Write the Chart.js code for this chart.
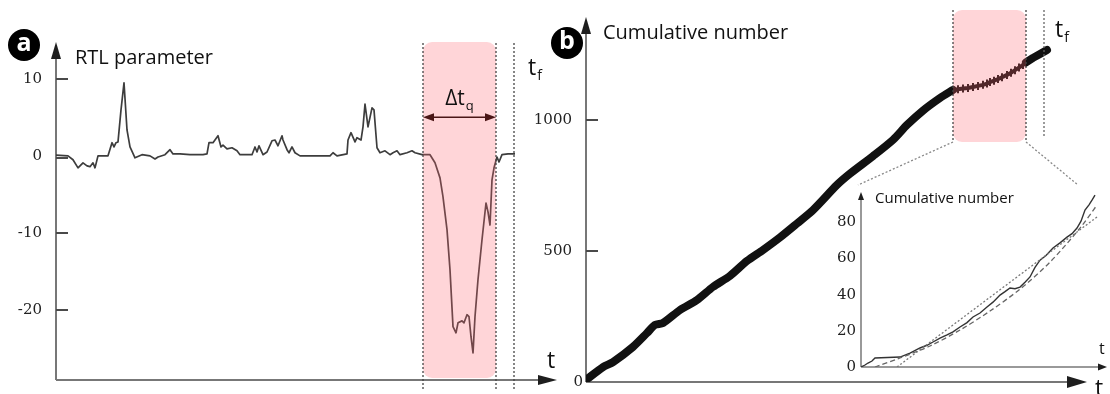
<!DOCTYPE html>
<html>
<head>
<meta charset="utf-8">
<script src="https://cdn.jsdelivr.net/npm/chart.js@4.4.0/dist/chart.umd.min.js"></script>
<style>
  body { margin: 0; background: #fff; }
  #wrap { position: relative; width: 1110px; height: 394px; }
  #wrap canvas { position: absolute; left: 0; top: 0; }
</style>
</head>
<body>
<div id="wrap">
  <canvas id="chartA" width="1110" height="394"></canvas>
  <canvas id="chartB" width="1110" height="394"></canvas>
  <canvas id="chartC" width="1110" height="394"></canvas>
</div>
<script>
// A - RTL parameter
const rtlTime = [
    0, 12, 17, 22, 27, 31, 34, 37, 39, 42,
    52, 56, 58, 60, 62, 65, 68, 71, 74, 79,
    86, 94, 99, 102, 109, 114, 117, 124, 134, 147,
    151, 153, 157, 162, 165, 167, 171, 176, 181, 184,
    196, 199, 201, 203, 207, 211, 216, 219, 222, 226,
    227, 231, 233, 236, 239, 244, 274, 277, 281, 291,
    292, 295, 299, 301, 305, 307, 309, 312, 316, 318,
    321, 324, 329, 334, 337, 341, 344, 351, 356, 359,
    366, 374, 379, 384, 387, 391, 394, 397, 400, 402,
    406, 408, 411, 413, 415, 417, 419, 422, 426, 430,
    432, 434, 436, 438, 441, 443, 446, 452, 456, 459,
];
const rtlValue = [
    0.1, 0, -0.5, -1.55, -0.9, -1.3, -1.4, -0.9, -1.55, 0,
    0, 1.7, 1.15, 1.7, 1.8, 5.95, 9.45, 3.35, 1.15, -0.25,
    0.15, 0, -0.4, -0.15, 0.15, 0.8, 0.25, 0.25, 0.15, 0.15,
    0.25, 1.7, 1.7, 2.6, 1.15, 1.4, 0.9, 1.05, 0.65, 0.15,
    0.15, 1.15, 0.5, 1.3, 0.15, 0.5, 1.95, 2.05, 1.3, 2.6,
    2.05, 0.8, 0.4, 1.15, 0.4, 0, 0, 0.4, 0, 0.25,
    2.05, 3.0, 1.8, 2.35, 2.05, 3.75, 6.7, 3.75, 6.2, 5.95,
    1.05, 0.4, 0.65, 0.15, 0.4, 0.65, 0.15, 0.4, 0.65, 0.4,
    0.15, 0.15, -0.9, -2.85, -5.3, -9.55, -14.75, -22.1, -22.9, -21.6,
    -21.35, -21.6, -20.55, -20.8, -23.4, -25.5, -20.8, -16.0, -10.85, -6.1,
    -7.25, -8.95, -3.1, -1.55, -0.15, -0.8, 0.15, 0.25, 0.25, 0.25,
];
const rtlTicks = [10, 0, -10, -20];

// B - cumulative number
const cumTime = [0, 17, 27, 47, 61, 69, 77, 94, 111, 127, 144, 161, 177, 194, 211, 227, 251, 264, 287, 307, 321, 337, 354, 367];
const cumValue = [8, 57, 76, 134, 187, 218, 225, 275, 313, 363, 405, 462, 504, 552, 605, 656, 752, 795, 862, 924, 981, 1036, 1084, 1115];
const cumZoomTime = [367, 372, 377, 382, 387, 392, 397, 401, 404, 408, 412, 416, 421, 425, 429, 433, 437, 440];
const cumZoomValue = [1115, 1117, 1120, 1122, 1126, 1130, 1134, 1139, 1145, 1150, 1156, 1163, 1172, 1180, 1190, 1200, 1210, 1220];
const cumTailTime = [440, 447, 454, 461];
const cumTailValue = [1220, 1237, 1252, 1267];
const cumTicks = [0, 500, 1000];

// inset - last events before t_f
const insetTime = [0, 4, 7, 11, 14, 39, 49, 59, 66, 72, 79, 86, 92, 99, 106, 112, 119, 126, 132, 139, 144, 149, 154, 159, 164, 169, 174, 179, 185, 192, 199, 206, 211, 216, 220, 224, 228, 231, 234];
const insetValue = [0, 1.1, 2.2, 3.3, 5.0, 5.5, 7.7, 10.5, 12.0, 13.8, 15.9, 17.7, 19.4, 22.1, 24.5, 27.6, 29.8, 33.1, 35.8, 39.7, 41.6, 43.6, 43.2, 44.1, 46.8, 49.7, 55.0, 59.0, 61.5, 65.7, 68.5, 71.7, 73.6, 76.7, 80.5, 86.6, 89.5, 92.1, 94.9];
const fitLinTime = [36, 236];
const fitLinValue = [0, 82.8];
const fitPowTime = [14, 39, 69, 99, 129, 159, 189, 219, 236];
const fitPowValue = [0, 5, 11.6, 20.4, 30.9, 43, 57.9, 76.7, 89.4];
const insetTicks = [0, 20, 40, 60, 80];

// quiescence window and failure time (same t units in a and b)
const quietStart = 367;
const quietEnd = 440;
const failTime = 458;

const SANS = '"Open Sans", sans-serif';
const SERIF = '"DejaVu Serif", serif';
const PINK = "rgba(255, 100, 110, 0.27)";

function pts(xs, ys) {
    return xs.map((t, i) => ({ x: t, y: ys[i] }));
}

function axisArrow(ctx, x0, y0, x1, y1, len, half, lw) {
    const a = Math.atan2(y1 - y0, x1 - x0);
    ctx.save();
    ctx.strokeStyle = "#777";
    ctx.lineWidth = lw;
    ctx.beginPath();
    ctx.moveTo(x0, y0);
    ctx.lineTo(x1 - len * 0.6 * Math.cos(a), y1 - len * 0.6 * Math.sin(a));
    ctx.stroke();
    ctx.fillStyle = "#1e1e1e";
    ctx.beginPath();
    ctx.moveTo(x1, y1);
    ctx.lineTo(x1 - len * Math.cos(a) + half * Math.sin(a), y1 - len * Math.sin(a) - half * Math.cos(a));
    ctx.lineTo(x1 - len * Math.cos(a) - half * Math.sin(a), y1 - len * Math.sin(a) + half * Math.cos(a));
    ctx.closePath();
    ctx.fill();
    ctx.restore();
}

function dotted(ctx, x0, y0, x1, y1, color) {
    ctx.save();
    ctx.strokeStyle = color || "#444";
    ctx.lineWidth = 1.3;
    ctx.setLineDash([2, 2]);
    ctx.beginPath();
    ctx.moveTo(x0, y0);
    ctx.lineTo(x1, y1);
    ctx.stroke();
    ctx.restore();
}

function subText(ctx, main, sub, x, y, size) {
    ctx.textAlign = "left";
    ctx.textBaseline = "alphabetic";
    ctx.font = size + "px " + SANS;
    ctx.fillText(main, x, y);
    const w = ctx.measureText(main).width;
    ctx.font = Math.round(size * 0.62) + "px " + SANS;
    ctx.fillText(sub, x + w + 1, y + size * 0.22);
}

function subWidth(ctx, main, sub, size) {
    ctx.font = size + "px " + SANS;
    const w = ctx.measureText(main).width;
    ctx.font = Math.round(size * 0.62) + "px " + SANS;
    return w + 1 + ctx.measureText(sub).width;
}

function badge(ctx, letter, cx, cy) {
    ctx.save();
    ctx.fillStyle = "#000";
    ctx.beginPath();
    ctx.arc(cx, cy, 16, 0, Math.PI * 2);
    ctx.fill();
    ctx.fillStyle = "#fff";
    ctx.font = "bold 25px " + SANS;
    ctx.textAlign = "center";
    ctx.textBaseline = "middle";
    ctx.fillText(letter, cx, cy - 1);
    ctx.restore();
}

function yLabels(ctx, scale, ticks, x, off) {
    ctx.save();
    ctx.font = "15px " + SERIF;
    ctx.fillStyle = "#222";
    ctx.textAlign = "right";
    ctx.textBaseline = "middle";
    ticks.forEach((v) => {
        ctx.fillText(String(v), x - off(v), Math.round(scale.getPixelForValue(v)));
    });
    ctx.restore();
}

// short inward tick marks, drawn as small bars after the axis line
function yMarks(ctx, scale, ticks, x, dy) {
    ctx.save();
    ctx.fillStyle = "#4a4a4a";
    ticks.forEach((v) => {
        const py = Math.round(scale.getPixelForValue(v)) + (v === 0 ? dy : 0);
        ctx.fillRect(x, py - 1, 12, 2);
    });
    ctx.restore();
}

// panel a decorations
const panelA = {
    id: "panelA",
    beforeDatasetsDraw(chart) {
        const { ctx, chartArea: ca, scales } = chart;
        yLabels(ctx, scales.y, rtlTicks, ca.left, () => 14);
        axisArrow(ctx, ca.left, ca.bottom, ca.left, ca.top, 17, 5, 2);
        axisArrow(ctx, ca.left, ca.bottom, ca.right, ca.bottom, 19, 5, 2);
    },
    afterDatasetsDraw(chart) {
        const { ctx, chartArea: ca, scales } = chart;
        yMarks(ctx, scales.y, rtlTicks, ca.left, 2);
        const x1 = scales.x.getPixelForValue(quietStart);
        const x2 = scales.x.getPixelForValue(quietEnd);
        const xf = scales.x.getPixelForValue(failTime);
        ctx.save();
        ctx.fillStyle = PINK;
        ctx.beginPath();
        ctx.roundRect(x1, ca.top, x2 - x1, ca.bottom - 2 - ca.top, 9);
        ctx.fill();
        ctx.restore();
        [x1, x2, xf].forEach((px) => dotted(ctx, px, ca.top + 1, px, ca.bottom + 11));

        // delta t_q double arrow
        const ya = scales.y.getPixelForValue(5);
        ctx.save();
        ctx.strokeStyle = "#4a1616";
        ctx.fillStyle = "#4a1616";
        ctx.lineWidth = 1.5;
        ctx.beginPath();
        ctx.moveTo(x1 + 6, ya);
        ctx.lineTo(x2 - 6, ya);
        ctx.stroke();
        [[x1, 1], [x2, -1]].forEach(([px, d]) => {
            ctx.beginPath();
            ctx.moveTo(px, ya);
            ctx.lineTo(px + d * 11, ya - 4);
            ctx.lineTo(px + d * 11, ya + 4);
            ctx.closePath();
            ctx.fill();
        });
        ctx.fillStyle = "#111";
        const w = subWidth(ctx, "\u0394t", "q", 21);
        subText(ctx, "\u0394t", "q", (x1 + x2) / 2 - w / 2, ya - 12, 21);
        subText(ctx, "t", "f", xf + 14, 75, 23);
        ctx.font = "23px " + SANS;
        ctx.fillText("t", ca.right - 10, ca.bottom - 12);
        ctx.font = "20px " + SANS;
        ctx.fillText("RTL parameter", ca.left + 19, 64);
        ctx.restore();
        badge(ctx, "a", 24, 45);
    },
};

// panel b decorations
const panelB = {
    id: "panelB",
    beforeDatasetsDraw(chart) {
        const { ctx, chartArea: ca, scales } = chart;
        yLabels(ctx, scales.y, cumTicks, ca.left, (v) => (v === 0 ? 3 : 14));
        axisArrow(ctx, ca.left, ca.bottom, ca.left, ca.top, 17, 5, 2);
        axisArrow(ctx, ca.left, ca.bottom, ca.right, ca.bottom, 20, 6, 2);
    },
    afterDatasetsDraw(chart) {
        const { ctx, chartArea: ca, scales } = chart;
        yMarks(ctx, scales.y, cumTicks.filter((v) => v !== 0), ca.left, 0);
        const x1 = scales.x.getPixelForValue(quietStart);
        const x2 = scales.x.getPixelForValue(quietEnd);
        const xf = scales.x.getPixelForValue(failTime);
        const top = ca.top - 7;
        const bot = scales.y.getPixelForValue(916);
        ctx.save();
        ctx.fillStyle = PINK;
        ctx.beginPath();
        ctx.roundRect(x1, top, x2 - x1, bot - top, 9);
        ctx.fill();
        ctx.restore();
        dotted(ctx, x1, top, x1, bot);
        dotted(ctx, x2, top, x2, bot);
        dotted(ctx, xf, top, xf, bot - 6, "#666");
        ctx.save();
        ctx.fillStyle = "#111";
        subText(ctx, "t", "f", xf + 11, 37, 23);
        ctx.font = "23px " + SANS;
        ctx.fillText("t", ca.right + 8, ca.bottom + 14);
        ctx.font = "20px " + SANS;
        ctx.fillText("Cumulative number", ca.left + 17, 39);
        ctx.restore();
        badge(ctx, "b", 567, 43);
    },
};

// inset decorations
const panelC = {
    id: "panelC",
    beforeDatasetsDraw(chart) {
        const { ctx, chartArea: ca, scales } = chart;
        yLabels(ctx, scales.y, insetTicks, ca.left, () => 5);
        axisArrow(ctx, ca.left, ca.bottom, ca.left, ca.top, 8, 3, 1.5);
        axisArrow(ctx, ca.left, ca.bottom, ca.right, ca.bottom, 9, 3.5, 1.5);

        // connectors from the pink window of panel b
        const b = Chart.getChart("chartB");
        if (b) {
            const bx = b.scales.x;
            const bot = b.scales.y.getPixelForValue(916);
            dotted(ctx, bx.getPixelForValue(quietStart), bot, ca.left - 3, ca.top - 7, "#888");
            dotted(ctx, bx.getPixelForValue(quietEnd), bot, scales.x.getPixelForValue(217), ca.top - 7, "#888");
        }
        ctx.save();
        ctx.fillStyle = "#111";
        ctx.font = "15px " + SANS;
        ctx.fillText("Cumulative number", ca.left + 14, ca.top + 11);
        ctx.font = "16px " + SANS;
        ctx.fillText("t", ca.right - 8, ca.bottom - 13);
        ctx.restore();
    },
};

const baseOptions = (pad, xMax, yMin, yMax) => ({
    responsive: false,
    animation: false,
    layout: { padding: pad },
    plugins: { legend: { display: false }, tooltip: { enabled: false } },
    elements: { point: { radius: 0 }, line: { tension: 0 } },
    scales: {
        x: { type: "linear", min: 0, max: xMax, display: false },
        y: { type: "linear", min: yMin, max: yMax, display: false },
    },
});

new Chart(document.getElementById("chartA"), {
    type: "line",
    data: {
        datasets: [
            {
                data: pts(rtlTime, rtlValue),
                borderColor: "#3d3d3d",
                borderWidth: 1.7,
                borderJoinStyle: "round",
            },
        ],
    },
    options: baseOptions({ left: 56, right: 553, top: 42, bottom: 14 }, 501, -29, 14.73),
    plugins: [panelA],
});

new Chart(document.getElementById("chartB"), {
    type: "line",
    data: {
        datasets: [
            {
                data: pts(cumTime, cumValue),
                borderColor: "#111",
                borderWidth: 8,
                borderCapStyle: "round",
                borderJoinStyle: "round",
                tension: 0.25,
            },
            {
                data: pts(cumZoomTime, cumZoomValue),
                borderColor: "#111",
                borderWidth: 4,
                pointStyle: "line",
                pointRotation: 90,
                pointRadius: 4,
                pointBorderWidth: 2,
                pointBorderColor: "#111",
            },
            {
                data: pts(cumTailTime, cumTailValue),
                borderColor: "#111",
                borderWidth: 8,
                borderCapStyle: "round",
                borderJoinStyle: "round",
            },
        ],
    },
    options: baseOptions({ left: 586, right: 23, top: 17, bottom: 12 }, 501, 0, 1393),
    plugins: [panelB],
});

new Chart(document.getElementById("chartC"), {
    type: "line",
    data: {
        datasets: [
            {
                data: pts(fitLinTime, fitLinValue),
                borderColor: "#777",
                borderWidth: 1.3,
                borderDash: [2, 2],
            },
            {
                data: pts(fitPowTime, fitPowValue),
                borderColor: "#666",
                borderWidth: 1.3,
                borderDash: [5, 3],
                tension: 0.3,
            },
            {
                data: pts(insetTime, insetValue),
                borderColor: "#333",
                borderWidth: 1.4,
            },
        ],
    },
    options: baseOptions({ left: 861, right: 3, top: 192, bottom: 27 }, 246, 0, 96.6),
    plugins: [panelC],
});
</script>
</body>
</html>
